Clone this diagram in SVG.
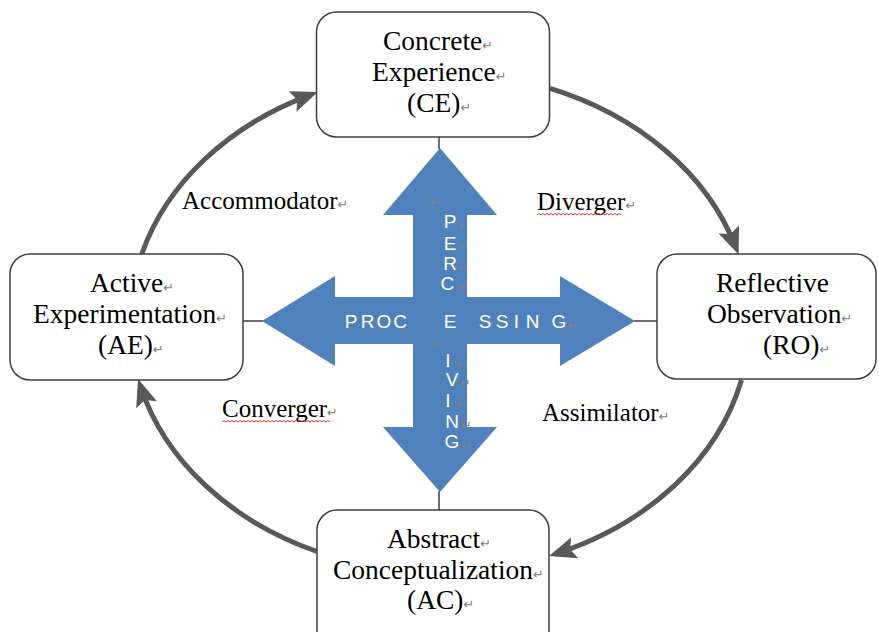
<svg xmlns="http://www.w3.org/2000/svg" width="879" height="632" viewBox="0 0 879 632">
  <style>
    .box { fill: #ffffff; stroke: #3f3f3f; stroke-width: 1.5; }
    .lbl { font-family: "Liberation Serif", "Times New Roman", serif; font-size: 27.5px; fill: #000000; }
    .style { font-family: "Liberation Serif", "Times New Roman", serif; font-size: 25px; fill: #000000; }
    .pm { font-family: "DejaVu Sans", sans-serif; font-size: 13px; fill: #7f7f7f; }
    .cap { font-family: "Liberation Sans", Arial, sans-serif; font-size: 19px; fill: #ffffff; text-anchor: middle; }
    .cycle { fill: none; stroke: #595959; stroke-width: 5; marker-end: url(#head); }
    .tie { stroke: #3f3f3f; stroke-width: 1.5; fill: none; }
    .squig { fill: none; stroke: #e03030; stroke-width: 1; }
  </style>
  <defs>
    <marker id="head" markerUnits="userSpaceOnUse" markerWidth="28" markerHeight="24" viewBox="0 0 28 24" refX="19" refY="12" orient="auto">
      <path d="M0,1 L27,12 L0,23 L5,12 Z" fill="#595959"/>
    </marker>
  </defs>

  <!-- cycle connectors -->
  <g id="connectors">
    <path class="cycle" d="M550,88.3 A310,250 0 0 1 735.7,247.1"/>
    <path class="cycle" d="M741.5,380 A310,250 0 0 1 556.6,553.6"/>
    <path class="cycle" d="M317,551.5 A310,250 0 0 1 140.6,386.7"/>
    <path class="cycle" d="M141.8,254 A310,250 0 0 1 310.4,94.9"/>
    <line class="tie" x1="439" y1="137" x2="439" y2="149"/>
    <line class="tie" x1="243" y1="321" x2="263" y2="321"/>
    <line class="tie" x1="634" y1="321" x2="657" y2="321"/>
    <line class="tie" x1="439" y1="491" x2="439" y2="510"/>
  </g>

  <!-- central four-way arrow -->
  <g id="cross">
    <polygon fill="#4f81bd" points="440,148 497,215 467,215 467,297 560,297 560,276 635,321 560,366 560,344 467,344 467,427 497,427 440,492 383,427 413,427 413,344 335,344 335,366 262,321 335,276 335,297 413,297 413,215 383,215"/>
    <text class="cap" y="328">
      <tspan x="351">P</tspan><tspan x="367.5">R</tspan><tspan x="384">O</tspan><tspan x="400">C</tspan><tspan x="450">E</tspan><tspan x="485">S</tspan><tspan x="502">S</tspan><tspan x="516.5">I</tspan><tspan x="532.5">N</tspan><tspan x="559">G</tspan>
    </text>
    <text class="cap">
      <tspan x="450" y="228">P</tspan><tspan x="450" y="250">E</tspan><tspan x="450" y="270">R</tspan><tspan x="450" y="290">C</tspan>
      <tspan x="448" y="367">I</tspan><tspan x="452" y="386">V</tspan><tspan x="448" y="407">I</tspan><tspan x="452" y="428">N</tspan><tspan x="452" y="448">G</tspan>
    </text>
    <text class="pm">
      <tspan x="430" y="207">↵</tspan>
      <tspan x="458" y="230">↵</tspan><tspan x="458" y="252">↵</tspan><tspan x="458" y="272">↵</tspan><tspan x="458" y="292">↵</tspan>
      <tspan x="567" y="330">↵</tspan>
      <tspan x="456" y="369">↵</tspan><tspan x="460" y="388">↵</tspan><tspan x="456" y="409">↵</tspan><tspan x="461" y="430">↵</tspan><tspan x="461" y="450">↵</tspan>
    </text>
    <path d="M433,344 L440,343 L437,346 Z" fill="#7f7f7f"/>
  </g>

  <!-- stage boxes -->
  <g id="ce">
    <rect class="box" x="316.5" y="12" width="233" height="125" rx="20"/>
    <text class="lbl" x="383" y="50">Concrete<tspan class="pm">↵</tspan></text>
    <text class="lbl" x="372" y="81">Experience<tspan class="pm">↵</tspan></text>
    <text class="lbl" x="407" y="112">(CE)<tspan class="pm">↵</tspan></text>
  </g>
  <g id="ae">
    <rect class="box" x="10" y="254" width="233" height="126" rx="20"/>
    <text class="lbl" x="90" y="292">Active<tspan class="pm">↵</tspan></text>
    <text class="lbl" x="33" y="323">Experimentation<tspan class="pm">↵</tspan></text>
    <text class="lbl" x="98" y="354">(AE)<tspan class="pm">↵</tspan></text>
  </g>
  <g id="ro">
    <rect class="box" x="657" y="254" width="219" height="125" rx="20"/>
    <text class="lbl" x="716" y="292">Reflective</text>
    <text class="lbl" x="707" y="323">Observation<tspan class="pm">↵</tspan></text>
    <text class="lbl" x="763" y="354">(RO)<tspan class="pm">↵</tspan></text>
  </g>
  <g id="ac">
    <rect class="box" x="317" y="510" width="232" height="140" rx="20"/>
    <text class="lbl" x="387" y="548">Abstract<tspan class="pm">↵</tspan></text>
    <text class="lbl" x="333" y="579">Conceptualization<tspan class="pm">↵</tspan></text>
    <text class="lbl" x="407" y="609">(AC)<tspan class="pm">↵</tspan></text>
  </g>

  <!-- learning style labels -->
  <g id="accommodator">
    <text class="style" x="182" y="209">Accommodator<tspan class="pm">↵</tspan></text>
  </g>
  <g id="diverger">
    <text class="style" x="537" y="210">Diverger<tspan class="pm">↵</tspan></text>
    <path class="squig" d="M537,215 l2,-1.5 l2,1.5 l2,-1.5 l2,1.5 l2,-1.5 l2,1.5 l2,-1.5 l2,1.5 l2,-1.5 l2,1.5 l2,-1.5 l2,1.5 l2,-1.5 l2,1.5 l2,-1.5 l2,1.5 l2,-1.5 l2,1.5 l2,-1.5 l2,1.5 l2,-1.5 l2,1.5 l2,-1.5 l2,1.5 l2,-1.5 l2,1.5 l2,-1.5 l2,1.5 l2,-1.5 l2,1.5 l2,-1.5 l2,1.5 l2,-1.5 l2,1.5 l2,-1.5 l2,1.5 l2,-1.5 l2,1.5 l2,-1.5 l2,1.5 l2,-1.5 l2,1.5"/>
  </g>
  <g id="converger">
    <text class="style" x="222" y="417">Converger<tspan class="pm">↵</tspan></text>
    <path class="squig" d="M222,422 l2,-1.5 l2,1.5 l2,-1.5 l2,1.5 l2,-1.5 l2,1.5 l2,-1.5 l2,1.5 l2,-1.5 l2,1.5 l2,-1.5 l2,1.5 l2,-1.5 l2,1.5 l2,-1.5 l2,1.5 l2,-1.5 l2,1.5 l2,-1.5 l2,1.5 l2,-1.5 l2,1.5 l2,-1.5 l2,1.5 l2,-1.5 l2,1.5 l2,-1.5 l2,1.5 l2,-1.5 l2,1.5 l2,-1.5 l2,1.5 l2,-1.5 l2,1.5 l2,-1.5 l2,1.5 l2,-1.5 l2,1.5 l2,-1.5 l2,1.5 l2,-1.5 l2,1.5 l2,-1.5 l2,1.5 l2,-1.5 l2,1.5 l2,-1.5 l2,1.5 l2,-1.5 l2,1.5 l2,-1.5 l2,1.5 l2,-1.5 l2,1.5"/>
  </g>
  <g id="assimilator">
    <text class="style" x="542" y="421">Assimilator<tspan class="pm">↵</tspan></text>
  </g>
</svg>
